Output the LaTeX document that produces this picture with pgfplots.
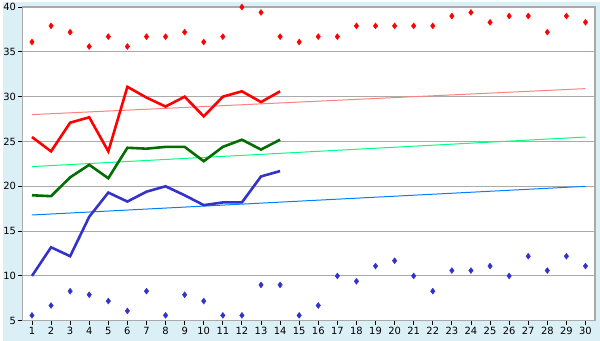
\documentclass[border=0pt]{standalone}
\usepackage{pgfplots}
\pgfplotsset{compat=1.18}
\usepackage{fontspec}
\setmainfont{DejaVu Sans}
\definecolor{bgblue}{RGB}{218,239,246}
\definecolor{gridgray}{RGB}{170,170,170}
\definecolor{redline}{RGB}{255,0,0}
\definecolor{greenline}{RGB}{0,110,0}
\definecolor{blueline}{RGB}{51,51,204}
\definecolor{redtrend}{RGB}{255,128,128}
\definecolor{greentrend}{RGB}{0,255,128}
\definecolor{bluetrend}{RGB}{0,128,255}
\begin{document}
\begin{tikzpicture}[x=1bp,y=1bp]
\fill[bgblue] (0,0) rectangle (600,340);
\begin{axis}[
  at={(20bp,20bp)}, anchor=south west,
  width=575bp, height=315bp, scale only axis,
  xmin=0.5, xmax=30.5, ymin=5, ymax=40,
  xtick={1,...,30}, ytick={5,10,...,40},
  axis background/.style={fill=white},
  axis line style={gridgray, line width=1.2bp},
  ymajorgrids, grid style={gridgray, line width=1bp},
  tick style={black, line width=0.9bp},
  tick align=outside, major tick length=4bp,
  xtick pos=bottom, ytick pos=left,
  tick label style={font=\fontsize{10}{12}\selectfont},
  /pgf/number format/assume math mode=true,
  xticklabel style={yshift=1bp},
  yticklabel style={xshift=1bp},
  clip=false,
]
% trend lines
\addplot[redtrend, line width=1bp] coordinates {(1,28.0) (30,30.9)};
\addplot[greentrend, line width=1bp] coordinates {(1,22.2) (30,25.5)};
\addplot[bluetrend, line width=1bp] coordinates {(1,16.8) (30,20.0)};
% main lines
\addplot[redline, line width=2.6bp] coordinates {
(1,25.5) (2,23.9) (3,27.1) (4,27.7) (5,23.9) (6,31.1) (7,29.9) (8,28.9) (9,30.0) (10,27.8) (11,30.0) (12,30.6) (13,29.4) (14,30.6)};
\addplot[greenline, line width=2.6bp] coordinates {
(1,19.0) (2,18.9) (3,21.0) (4,22.4) (5,20.9) (6,24.3) (7,24.2) (8,24.4) (9,24.4) (10,22.8) (11,24.4) (12,25.2) (13,24.1) (14,25.2)};
\addplot[blueline, line width=2.6bp] coordinates {
(1,10.0) (2,13.2) (3,12.2) (4,16.6) (5,19.3) (6,18.3) (7,19.4) (8,20.0) (9,19.0) (10,17.9) (11,18.2) (12,18.2) (13,21.1) (14,21.7)};
% scatter points
\addplot[only marks, mark=diamond*, mark size=3bp, color=redline] coordinates {
(1,36.1) (2,37.9) (3,37.2) (4,35.6) (5,36.7) (6,35.6) (7,36.7) (8,36.7) (9,37.2) (10,36.1)
(11,36.7) (12,40.0) (13,39.4) (14,36.7) (15,36.1) (16,36.7) (17,36.7) (18,37.9) (19,37.9) (20,37.9)
(21,37.9) (22,37.9) (23,39.0) (24,39.4) (25,38.3) (26,39.0) (27,39.0) (28,37.2) (29,39.0) (30,38.3)};
\addplot[only marks, mark=diamond*, mark size=3bp, color=blueline] coordinates {
(1,5.6) (2,6.7) (3,8.3) (4,7.9) (5,7.2) (6,6.1) (7,8.3) (8,5.6) (9,7.9) (10,7.2)
(11,5.6) (12,5.6) (13,9.0) (14,9.0) (15,5.6) (16,6.7) (17,10.0) (18,9.4) (19,11.1) (20,11.7)
(21,10.0) (22,8.3) (23,10.6) (24,10.6) (25,11.1) (26,10.0) (27,12.2) (28,10.6) (29,12.2) (30,11.1)};
\end{axis}
\end{tikzpicture}
\end{document}
